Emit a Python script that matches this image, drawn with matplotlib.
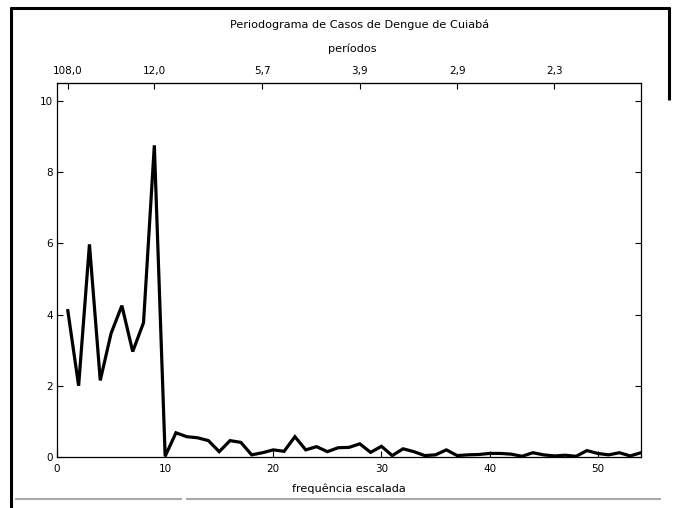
import matplotlib
matplotlib.use("Agg")
import matplotlib.pyplot as plt
from matplotlib.lines import Line2D

# Scaled frequencies (T = 108 observations) and periodogram ordinates
freq = list(range(1, 55))
periodogram = [
    4.11, 2.00, 5.97, 2.15, 3.47, 4.25, 2.96, 3.77, 8.75, 0.02,
    0.68, 0.57, 0.54, 0.46, 0.15, 0.46, 0.41, 0.06, 0.12, 0.20,
    0.16, 0.57, 0.20, 0.29, 0.15, 0.26, 0.27, 0.37, 0.13, 0.30,
    0.04, 0.23, 0.15, 0.04, 0.06, 0.20, 0.04, 0.06, 0.07, 0.10,
    0.10, 0.08, 0.02, 0.12, 0.06, 0.03, 0.05, 0.02, 0.18, 0.10,
    0.06, 0.12, 0.03, 0.12,
]

x_ticks = [0, 10, 20, 30, 40, 50]
y_ticks = [0, 2, 4, 6, 8, 10]
period_ticks = [1, 9, 19, 28, 37, 46]
period_labels = ["108,0", "12,0", "5,7", "3,9", "2,9", "2,3"]

W, H = 676, 508
FS = 7.5
FS_TXT = 8.1
fig = plt.figure(figsize=(W / 100, H / 100), dpi=100)

ax = fig.add_axes([57 / W, 1 - 457 / H, (641 - 57) / W, (457 - 83) / H])
ax.plot(freq, periodogram, color="black", lw=2.3, solid_joinstyle="miter")
ax.set_xlim(0, 54)
ax.set_ylim(0, 10.5)
ax.set_xticks(x_ticks)
ax.set_yticks(y_ticks)
ax.tick_params(direction="in", length=4, width=0.8, labelsize=FS,
               colors="black", pad=5, right=True)
ax.tick_params(axis="y", pad=3)
for s in ax.spines.values():
    s.set_linewidth(0.9)
ax.set_xlabel("frequência escalada", fontsize=FS_TXT, labelpad=7)

top = ax.secondary_xaxis("top")
top.set_xticks(period_ticks)
top.set_xticklabels(period_labels)
top.tick_params(direction="in", length=4, width=0.8, labelsize=FS, pad=5)

fig.text(360 / W, 1 - 25 / H, "Periodograma de Casos de Dengue de Cuiabá",
         ha="center", va="center", fontsize=FS_TXT)
fig.text(352 / W, 1 - 49 / H, "períodos", ha="center", va="center",
         fontsize=FS_TXT)

# Window frame around the chart
def fline(xs, ys, color, lw):
    fig.add_artist(Line2D([x / W for x in xs], [1 - y / H for y in ys],
                          color=color, lw=lw, transform=fig.transFigure,
                          solid_capstyle="butt"))

fline([11, 11], [7, 508], "black", 2.2)
fline([10, 670], [8, 8], "black", 2.2)
fline([669, 669], [7, 100], "black", 2.2)
fline([15, 182], [499, 499], "#a9a9a9", 1.5)
fline([186, 661], [499, 499], "#a9a9a9", 1.5)

fig.savefig("out.png", dpi=100)
